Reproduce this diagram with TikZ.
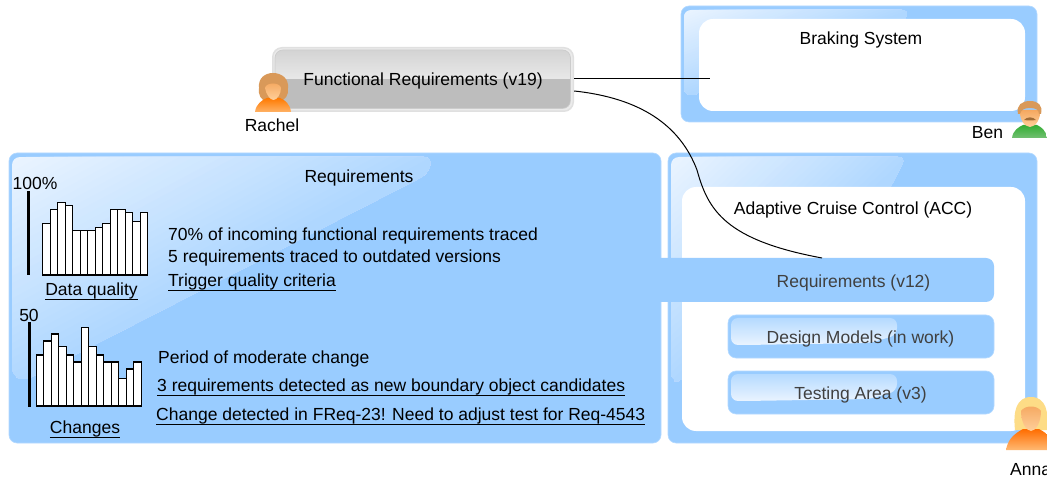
\documentclass[tikz,border=0pt]{standalone}
\usepackage{fontspec}
\setmainfont{Liberation Sans}
\definecolor{panelblue}{HTML}{99CCFF}
\definecolor{panelrim}{HTML}{B5DAFF}
\definecolor{glosslight}{HTML}{EAF4FF}
\definecolor{glossend}{HTML}{AFD7FF}
\definecolor{labelgrey}{HTML}{404040}
\definecolor{skintop}{HTML}{FFCF9A}
\definecolor{skinbot}{HTML}{F5A860}
\newcommand{\glossarea}[6][8pt]{%
  \begin{scope}
    \clip[rounded corners=#1] #2;
    \foreach \k in {0,...,30}{%
      \pgfmathsetmacro{\c}{\k/30}%
      \pgfmathsetmacro{\pct}{100-100*\c}%
      \fill[glosslight!\pct!glossend]
        ({#3+\c*#5},#4) -- ({#3+3*#5},#4) -- ({#3+3*#5},{#4+3*#6}) -- (#3,{#4+3*#6}) -- (#3,{#4+\c*#6}) -- cycle;
    }
  \end{scope}}
\tikzset{
  panel/.style={fill=panelblue,draw=panelrim,line width=0.6pt,rounded corners=8pt},
  inner/.style={fill=white,rounded corners=14pt},
  vshade/.style 2 args={top color=#1,bottom color=#2,shading angle=180},
  barcell/.style={draw=black,fill=white,line width=1.1pt},
  scalebar/.style={draw=black,line width=2.4pt},
  ulined/.style={draw=black,line width=1.1pt},
  wire/.style={draw=black,line width=1pt},
  txt/.style={inner sep=0pt,font=\fontsize{17.5}{21}\selectfont,text=black},
  ltxt/.style={txt,anchor=west},
  sub/.style={txt,text=labelgrey},
  skin/.style={vshade={skintop}{skinbot}},
}
\begin{document}
\begin{tikzpicture}[x=1pt,y=-1pt]
\useasboundingbox (0,0) rectangle (1047,478);
\clip (0,0) rectangle (1047,478);
\fill[white] (0,0) rectangle (1047,478);

% left panel
\draw[panel] (9,153) rectangle (661,443);
\glossarea{(12,157) -- (432,157) -- (428,174) -- (24,381) -- (12,375) -- cycle}{12}{157}{420}{224}

% right lower panel
\draw[panel] (668,153) rectangle (1037,443);
\glossarea{(671,157) -- (906,157) -- (888,192) -- (682,381) -- (671,381) -- cycle}{671}{157}{235}{224}
\fill[inner] (682,187) rectangle (1025,431);

% right upper panel
\draw[panel] (681,6) rectangle (1037,122);
\glossarea[7pt]{(684,10) -- (909,10) -- (904,22) -- (700,60) -- (700,95) -- (684,95) -- cycle}{684}{10}{225}{85}
\fill[inner] (699,19) rectangle (1025,111);
\node[txt] (brake) at (861,40) {Braking System};

% functional box
\fill[black!12,rounded corners=10pt] (272,47) rectangle (574,112);
\fill[white!92!black,rounded corners=9pt] (273.5,48.5) rectangle (572.5,110.5);
\begin{scope}
\clip[rounded corners=8pt] (275,50) rectangle (570.5,108.5);
\shade[vshade={black!9}{black!17}] (275,50) rectangle (570.5,79);
\fill[black!26] (275,79) rectangle (570.5,108.5);
\end{scope}
\draw[black!20,line width=0.7pt,rounded corners=8pt] (275,50) rectangle (570.5,108.5);
\node[txt] (fr) at (423,81) {Functional Requirements (v19)};
\node[inner sep=0pt,minimum width=302pt,minimum height=65pt] (frbox) at (423,79.5) {};

% sub boxes
\fill[panelblue,rounded corners=8pt] (648,258) rectangle (994,302);
\draw[panel] (728,315) rectangle (994,358);
\shade[vshade={glosslight}{panelrim},rounded corners=7pt] (731,318) -- (897,318) -- (897,335) -- (870,343) -- (745,345) -- (731,345) -- cycle;
\draw[panel] (728,371) rectangle (994,414);
\shade[vshade={glosslight}{panelrim},rounded corners=7pt] (731,374) -- (897,374) -- (897,391) -- (870,399) -- (745,401) -- (731,401) -- cycle;
\node[sub] (rv) at (853.5,282.5) {Requirements (v12)};
\node[sub] (dm) at (860.5,338.5) {Design Models (in work)};
\node[sub] (ta) at (860.5,394.5) {Testing Area (v3)};
\node[txt] (acc) at (853,209.5) {Adaptive Cruise Control (ACC)};

% connectors
\coordinate (brakeend) at (710,79);
\coordinate (reqend) at (822,258);
\draw[wire] (frbox.east |- brakeend) -- (brakeend);
\draw[wire] ([yshift=-11.5pt]frbox.east) .. controls (640,98) and (680,125) .. (697,170) .. controls (708,210) and (725,240) .. (reqend);

% left panel text
\node[txt] (reqt) at (359,177.5) {Requirements};
\node[ltxt] (t1) at (168,235.5) {70\% of incoming functional requirements traced};
\node[ltxt] (t2) at (168,257.5) {5 requirements traced to outdated versions};
\node[ltxt] (t3) at (168,281.5) {Trigger quality criteria};
\node[ltxt] (t4) at (158,358.5) {Period of moderate change};
\node[ltxt] (t5) at (157,386.5) {3 requirements detected as new boundary object candidates};
\node[ltxt] (t6) at (156,415.5) {Change detected in FReq-23! Need to adjust test for Req-4543};
\node[txt] (dq) at (91.5,290.5) {Data quality};
\node[txt] (ch) at (85,428.5) {Changes};
\node[txt] (p100) at (35,183.5) {100\%};
\node[txt] (p50) at (29,315.5) {50};
\draw[ulined] ([yshift=-4.5pt]t3.base west) -- ([yshift=-4.5pt]t3.base east);
\draw[ulined] ([yshift=-4.5pt]t5.base west) -- ([yshift=-4.5pt]t5.base east);
\draw[ulined] ([yshift=-4.5pt]t6.base west) -- ([yshift=-4.5pt]t6.base east);
\draw[ulined] ([yshift=-4.5pt]dq.base west) -- ([yshift=-4.5pt]dq.base east);
\draw[ulined] ([yshift=-4.5pt]ch.base west) -- ([yshift=-4.5pt]ch.base east);

% charts
\draw[scalebar] (28.5,191) -- (28.5,275.5);
\foreach \t [count=\i from 0] in {223.7,209.7,202.7,205.7,230.7,230.7,230.7,227.7,223.7,209.7,209.7,212.7,221.7,212.7}
  \draw[barcell] ({42.7+7.5*\i},275) rectangle ({42.7+7.5*(\i+1)},\t);
\draw[scalebar] (29.3,322) -- (29.3,407);
\foreach \t [count=\i from 0] in {355,341,334,346.3,355,362,327.7,346.3,355,362,362,378.3,369,362}
  \draw[barcell] ({36.3+7.5*\i},406) rectangle ({36.3+7.5*(\i+1)},\t);

% Rachel
\fill[fill=brown!75!orange!80!white] (259,88) .. controls (258,78) and (265,73) .. (273,73) .. controls (282,73) and (289,79) .. (288,88) .. controls (289,95) and (285,100) .. (280,101) -- (266,101) .. controls (261,100) and (258,95) .. (259,88) -- cycle;
\shade[vshade={orange!60!white}{orange!95!red}] (255,112) .. controls (256,104) and (262,100) .. (267,98) -- (280,98) .. controls (285,100) and (290,104) .. (291,112) -- cycle;
\shade[skin] (265,88) .. controls (266,82) and (280,82) .. (281,88) .. controls (281,94) and (277,100) .. (273.5,100) .. controls (270,100) and (266,94) .. (265,88) -- cycle;
\node[txt] (rachel) at (272,125.5) {Rachel};

% Ben
\shade[vshade={green!55!black!55}{green!60!black!80}] (1012,138) .. controls (1013,130) and (1019,127) .. (1023,125) -- (1037,125) .. controls (1041,127) and (1046,130) .. (1047,138) -- cycle;
\shade[skin] (1020,110) -- (1040,110) .. controls (1041,118) and (1036,127) .. (1030,127) .. controls (1024,127) and (1019,118) .. (1020,110) -- cycle;
\fill[brown!75!orange!80!white] (1018,114) .. controls (1016,105) and (1022,101) .. (1030,101) .. controls (1038,101) and (1043,105) .. (1041,114) -- (1039,114) .. controls (1039,110) and (1036,108) .. (1030,108) .. controls (1024,108) and (1021,110) .. (1020,114) -- cycle;
\fill[brown!85!black] (1024,120) .. controls (1027,116.5) and (1033,116.5) .. (1036,120) .. controls (1033,120.5) and (1027,120.5) .. (1024,120) -- cycle;
\node[txt] (ben) at (987.5,132.5) {Ben};

% Anna
\fill[yellow!45!orange!45!white] (1015,430) .. controls (1013,412) and (1016,397) .. (1031,397) .. controls (1046,397) and (1049,412) .. (1047,430) -- cycle;
\shade[vshade={orange!55!white}{orange!85!red}] (1006,450) .. controls (1008,439) and (1014,434) .. (1023,429) -- (1039,429) .. controls (1048,434) and (1054,439) .. (1055,450) -- cycle;
\shade[skin] (1021,411) .. controls (1025,405) and (1037,405) .. (1041,411) .. controls (1041,422) and (1036,431) .. (1031,431) .. controls (1026,431) and (1021,422) .. (1021,411) -- cycle;
\node[txt,anchor=west] (anna) at (1010,469.5) {Anna};
\end{tikzpicture}
\end{document}
